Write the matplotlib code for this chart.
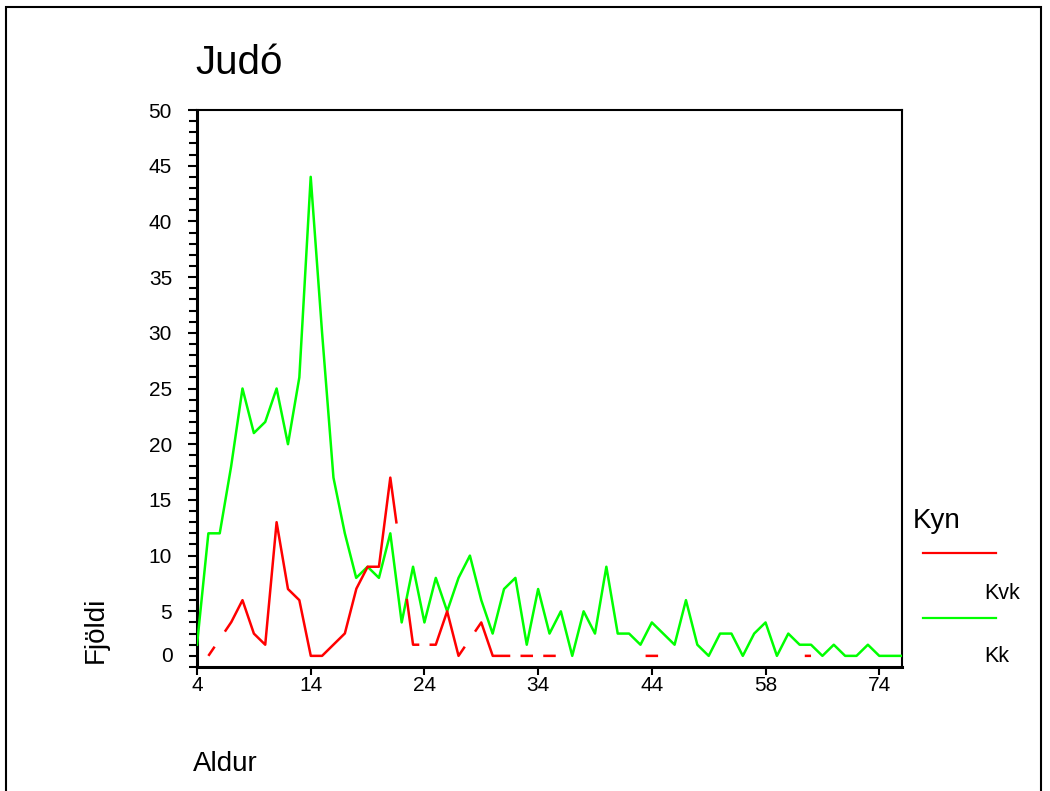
import numpy as np
import matplotlib
matplotlib.use("Agg")
import matplotlib.pyplot as plt
from matplotlib.lines import Line2D
from matplotlib.patches import Rectangle

plt.rcParams['font.family'] = ['Liberation Sans', 'DejaVu Sans']

# aldur (bara þau aldursár sem koma fyrir)
ages = list(range(4, 45)) + [45, 46, 47, 48, 49, 51, 52, 54, 56, 58,
                             60, 61, 62, 63, 65, 66, 68, 70, 72, 74, 76, 79]

# fjöldi karla (Kk)
kk = [2, 12, 12, 18, 25, 21, 22, 25, 20, 26, 44,
      30, 17, 12, 8, 9, 8, 12, 4, 9, 4,
      8, 5, 8, 10, 6, 3, 7, 8, 2, 7,
      3, 5, 1, 5, 3, 9, 3, 3, 2, 4,
      3, 2, 6, 2, 1, 3, 3, 1, 3, 4,
      1, 3, 2, 2, 1, 2, 1, 1, 2, 1,
      1, 1]

# fjöldi kvenna (Kvk), None = enginn
kvk = [None, 1, None, 4, 6, 3, 2, 13, 7, 6, 1,
       1, 2, 3, 7, 9, 9, 17, None, 2, None,
       2, 5, 1, None, 4, 1, 1, None, 1, None,
       1, None, None, None, None, None, None, None, None, 1,
       None, None, None, None, None, None, None, None, None, None,
       None, None, None, 1, None, None, None, None, None, None,
       None, None]

W, H = 1050, 791
fig = plt.figure(figsize=(W / 100, H / 100), dpi=100)
ax = fig.add_axes([197 / W, 1 - 667 / H, (902 - 197) / W, (667 - 110) / H])

idx = np.arange(len(ages))
ax.plot(idx, kk, color='#00ff00', lw=1.8, zorder=3)

# kvk línan: brotin þar sem gildi vantar (eins og í SPSS)
kvk_arr = np.array([np.nan if v is None else v for v in kvk], dtype=float)
ok = ~np.isnan(kvk_arr)
xv = idx[ok]
yv = kvk_arr[ok]
xs = np.union1d(np.linspace(0, len(ages) - 1, 3000),
                np.concatenate([xv, xv - 0.55, xv + 0.55]))
ys = np.interp(xs, xv, yv, left=np.nan, right=np.nan)
dist = np.min(np.abs(xs[:, None] - xv[None, :]), axis=1)
ys[dist > 0.55 + 1e-9] = np.nan
ax.plot(xs, ys, color='#ff0000', lw=1.8, solid_capstyle='butt', zorder=4)

ax.set_xlim(0, len(ages) - 1)
ax.set_ylim(0, 50)

xt = list(range(0, 61, 10))
ax.set_xticks(xt)
ax.set_xticklabels([str(ages[i]) for i in xt])
ax.set_yticks(range(5, 51, 5))
ax.set_yticks(range(0, 51), minor=True)

ax.tick_params(axis='x', which='major', direction='out', length=5.8, width=1.5,
               labelsize=15, pad=1)
ax.tick_params(axis='y', which='major', direction='out', length=6.7, width=1.5,
               labelsize=15, pad=11.3)
ax.tick_params(axis='y', which='minor', direction='out', length=6, width=1.5)

for s in ['left', 'bottom']:
    ax.spines[s].set_linewidth(2.2)
for s in ['top', 'right']:
    ax.spines[s].set_linewidth(1.5)

# "0" merkið situr aðeins ofar en ásinn
ax.annotate('0', xy=(0, 0), xycoords=('axes fraction', 'data'),
            xytext=(-17.3, 7.9), textcoords='offset points',
            ha='right', va='center', fontsize=15)

fig.text(195 / W, 1 - 74 / H, 'Judó', fontsize=29, ha='left', va='baseline')
fig.text(193 / W, 1 - 771 / H, 'Aldur', fontsize=20, ha='left', va='baseline')
fig.text(96 / W, 1 - 663 / H, 'Fjöldi', fontsize=20, rotation=90,
         ha='center', va='bottom')

# skýringar
fig.text(913 / W, 1 - 528 / H, 'Kyn', fontsize=20, ha='left', va='baseline')
fig.add_artist(Line2D([922.7 / W, 995.7 / W], [1 - 552.7 / H] * 2,
                      transform=fig.transFigure, color='#ff0000', lw=1.6))
fig.add_artist(Line2D([922.7 / W, 995.7 / W], [1 - 618.3 / H] * 2,
                      transform=fig.transFigure, color='#00ff00', lw=1.6))
fig.text(984 / W, 1 - 599 / H, 'Kvk', fontsize=15.5, ha='left', va='baseline')
fig.text(984 / W, 1 - 662.5 / H, 'Kk', fontsize=15.5, ha='left', va='baseline')

fig.add_artist(Rectangle((6 / W, -0.05), (1041 - 6) / W, 1 - 7 / H + 0.05,
                         transform=fig.transFigure, fill=False,
                         edgecolor='black', lw=1.5))

fig.savefig('out.png', dpi=100)
